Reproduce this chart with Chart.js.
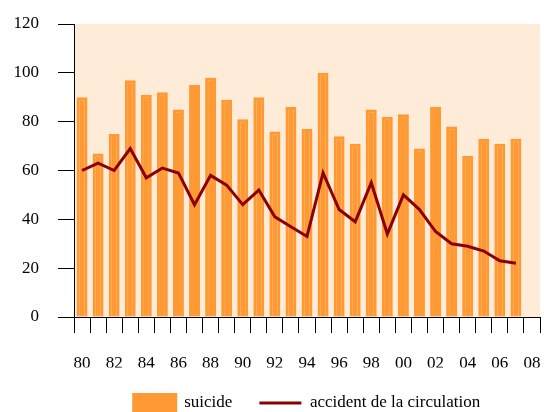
<!DOCTYPE html>
<html>
<head>
<meta charset="utf-8">
<script src="https://cdn.jsdelivr.net/npm/chart.js@4"></script>
<style>
  html, body { margin: 0; padding: 0; background: #fff; }
  #wrap { width: 544px; height: 412px; }
</style>
</head>
<body>
<div id="wrap"><canvas id="chart" width="544" height="412"></canvas></div>
<script>
// years 1980-2008, labelled every second year
const years = ['80','81','82','83','84','85','86','87','88','89','90','91','92','93','94',
               '95','96','97','98','99','00','01','02','03','04','05','06','07','08'];
const suicide = [90, 67, 75, 97, 91, 92, 85, 95, 98, 89, 81, 90, 76, 86, 77,
                 100, 74, 71, 85, 82, 83, 69, 86, 78, 66, 73, 71, 73, null];
const accident = [60, 63, 60, 69, 57, 61, 59, 46, 58, 54, 46, 52, 41, 37, 33,
                  59, 44, 39, 55, 34, 50, 44, 35, 30, 29, 27, 23, 22, null];

// peach background behind the plot area
const plotBg = {
    id: 'plotBg',
    beforeDraw(chart) {
        const a = chart.chartArea;
        const ctx = chart.ctx;
        ctx.save();
        ctx.fillStyle = '#FEEBD8';
        ctx.fillRect(a.left, a.top, a.right - a.left, a.bottom - a.top);
        ctx.restore();
    }
};

// fixed legend band height so the legend sits close to the axis labels
const legendBand = {
    id: 'legendBand',
    beforeLayout(chart) {
        const lg = chart.legend;
        if (!lg || lg._bandFit) return;
        const fit = lg.fit;
        lg.fit = function () {
            fit.call(this);
            this.height = 44.6;
        };
        lg._bandFit = true;
    }
};

const font = { family: '"Liberation Serif", "Times New Roman", serif', size: 17 };

new Chart(document.getElementById('chart'), {
    type: 'bar',
    data: {
        labels: years,
        datasets: [{
            type: 'line',
            label: 'accident de la circulation',
            data: accident,
            borderColor: '#8B0000',
            backgroundColor: '#8B0000',
            borderWidth: 3,
            pointRadius: 0,
            pointStyle: 'line',
            tension: 0,
            order: 0
        }, {
            label: 'suicide',
            data: suicide,
            backgroundColor: '#FF9933',
            borderColor: '#FF9933',
            borderWidth: 3,
            pointStyle: 'rect',
            barPercentage: 0.68,
            categoryPercentage: 1,
            order: 1
        }]
    },
    options: {
        responsive: false,
        animation: false,
        layout: { padding: { top: 24, right: 4, left: 0, bottom: 0 } },
        plugins: {
            tooltip: { enabled: false },
            legend: {
                position: 'bottom',
                fullSize: false,
                reverse: true,
                labels: {
                    usePointStyle: true,
                    pointStyleWidth: 42,
                    boxHeight: 17,
                    padding: 27,
                    color: '#000',
                    font: font
                }
            }
        },
        scales: {
            x: {
                offset: true,
                grid: {
                    offset: true,
                    drawOnChartArea: false,
                    drawTicks: true,
                    tickLength: 16,
                    color: '#000'
                },
                border: { color: '#000', width: 1 },
                ticks: {
                    autoSkip: false,
                    maxRotation: 0,
                    padding: 20,
                    color: '#000',
                    font: font,
                    callback: (v, i) => (i % 2 === 0 ? years[i] : '')
                },
                afterFit(s) {
                    s.height = 50.4;
                    s.paddingLeft = 0;
                    s.paddingRight = 0;
                }
            },
            y: {
                min: 0,
                max: 120,
                grid: {
                    drawOnChartArea: false,
                    drawTicks: true,
                    tickLength: 16,
                    color: '#000'
                },
                border: { color: '#000', width: 1 },
                ticks: {
                    stepSize: 20,
                    padding: 19,
                    color: '#000',
                    font: font
                },
                afterFit(s) {
                    s.width = 74;
                    s.paddingTop = 0;
                    s.paddingBottom = 0;
                }
            }
        }
    },
    plugins: [plotBg, legendBand]
});
</script>
</body>
</html>
